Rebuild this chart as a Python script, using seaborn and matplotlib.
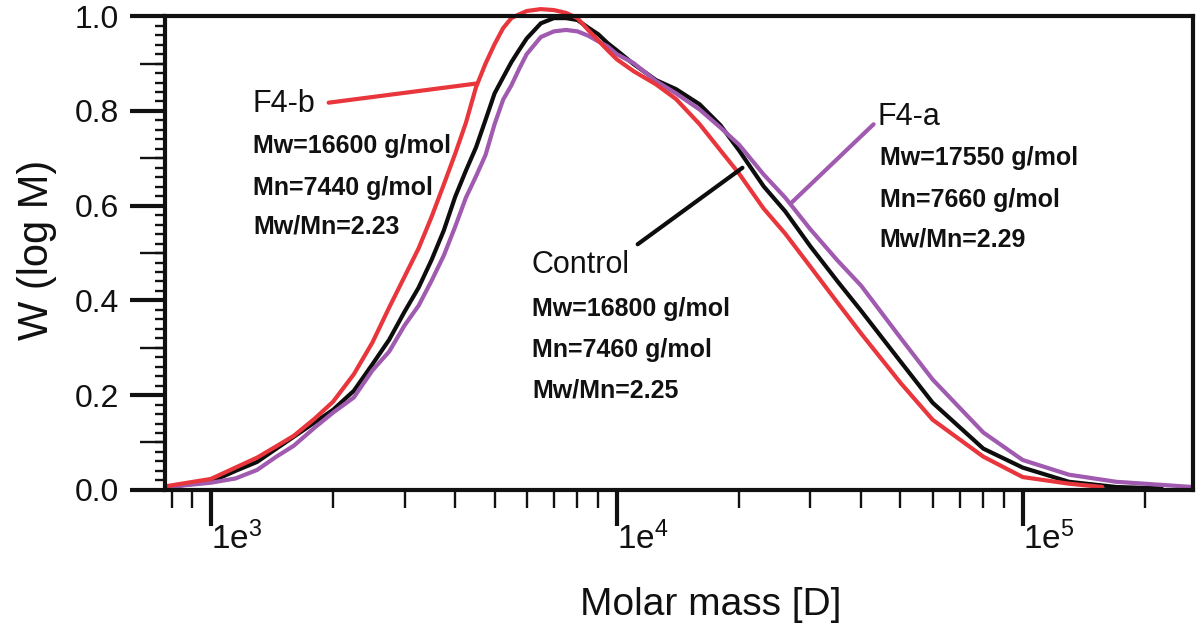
import numpy as np
import pandas as pd
import matplotlib.pyplot as plt
import matplotlib.ticker as mticker
import seaborn as sns

# molar mass grid (D) shared by the three GPC traces
molar_mass = [780, 1000, 1150, 1300, 1450, 1600, 1800, 2000, 2250, 2500,
              2750, 3000, 3250, 3500, 3750, 4000, 4250, 4500, 4750, 5000,
              5250, 5500, 5750, 6000, 6500, 7000, 7500, 8000, 8500, 9000,
              9500, 10000, 11000, 12500, 14000, 16000, 18000, 20000, 23000, 26000,
              30000, 35000, 40000, 50000, 60000, 80000, 100000, 130000]

# W (log M)
w_f4b = [0.008, 0.023, 0.047, 0.068, 0.092, 0.114, 0.150, 0.186, 0.244, 0.311,
         0.385, 0.450, 0.510, 0.577, 0.645, 0.710, 0.775, 0.850, 0.900, 0.941,
         0.975, 0.996, 1.004, 1.011, 1.015, 1.013, 1.007, 0.996, 0.971, 0.949,
         0.928, 0.909, 0.884, 0.856, 0.825, 0.772, 0.717, 0.668, 0.594, 0.541,
         0.471, 0.395, 0.330, 0.226, 0.148, 0.070, 0.027, 0.013]
w_control = [0.006, 0.017, 0.040, 0.059, 0.087, 0.112, 0.142, 0.169, 0.209, 0.265,
             0.317, 0.376, 0.427, 0.486, 0.548, 0.619, 0.674, 0.723, 0.781, 0.837,
             0.871, 0.903, 0.929, 0.953, 0.985, 0.996, 0.996, 0.992, 0.976, 0.962,
             0.943, 0.928, 0.899, 0.865, 0.846, 0.814, 0.770, 0.717, 0.641, 0.588,
             0.514, 0.440, 0.378, 0.271, 0.184, 0.087, 0.047, 0.017]
w_f4a = [0.006, 0.015, 0.024, 0.042, 0.070, 0.093, 0.131, 0.163, 0.195, 0.252,
         0.292, 0.347, 0.389, 0.442, 0.495, 0.556, 0.617, 0.662, 0.707, 0.772,
         0.824, 0.854, 0.889, 0.920, 0.956, 0.968, 0.971, 0.968, 0.959, 0.947,
         0.936, 0.920, 0.901, 0.863, 0.837, 0.803, 0.765, 0.729, 0.666, 0.617,
         0.550, 0.484, 0.431, 0.321, 0.233, 0.121, 0.063, 0.032]

# tails beyond the shared grid
tail_mass_f4b, tail_w_f4b = [157000], [0.006]
tail_mass_control, tail_w_control = [170000, 220000], [0.006, 0.003]
tail_mass_f4a, tail_w_f4a = [170000, 262000], [0.017, 0.006]

samples = ['Control', 'F4-a', 'F4-b']
stats = {
    'F4-b': ['Mw=16600 g/mol', 'Mn=7440 g/mol', 'Mw/Mn=2.23'],
    'Control': ['Mw=16800 g/mol', 'Mn=7460 g/mol', 'Mw/Mn=2.25'],
    'F4-a': ['Mw=17550 g/mol', 'Mn=7660 g/mol', 'Mw/Mn=2.29'],
}
colors = {'Control': '#0d0d0d', 'F4-a': '#a05aaf', 'F4-b': '#e8363c'}

frames = [
    pd.DataFrame({'mass': molar_mass + tail_mass_control, 'w': w_control + tail_w_control, 'sample': 'Control'}),
    pd.DataFrame({'mass': molar_mass + tail_mass_f4a, 'w': w_f4a + tail_w_f4a, 'sample': 'F4-a'}),
    pd.DataFrame({'mass': molar_mass + tail_mass_f4b, 'w': w_f4b + tail_w_f4b, 'sample': 'F4-b'}),
]
df = pd.concat(frames, ignore_index=True)

sns.set_style('ticks')
plt.rcParams['font.family'] = ['Liberation Sans', 'DejaVu Sans']
plt.rcParams['mathtext.fontset'] = 'custom'
plt.rcParams['mathtext.rm'] = 'Liberation Sans'
plt.rcParams['mathtext.default'] = 'regular'
for key in ['text.color', 'axes.labelcolor', 'xtick.color', 'ytick.color', 'axes.edgecolor']:
    plt.rcParams[key] = '#111111'

fig, ax = plt.subplots(figsize=(12, 6.24), dpi=100)
fig.subplots_adjust(left=0.1375, right=0.994, top=0.974, bottom=0.215)

for s in samples:
    sns.lineplot(data=df[df['sample'] == s], x='mass', y='w', color=colors[s],
                 lw=3, sort=False, estimator=None, ax=ax, clip_on=False)

ax.set_xscale('log')
ax.set_xlim(771, 262500)
ax.set_ylim(0, 1.0)

# x ticks
ax.set_xticks([1e3, 1e4, 1e5])
ax.set_xticklabels(['1e$^{3}$', '1e$^{4}$', '1e$^{5}$'])
ax.xaxis.set_minor_locator(mticker.LogLocator(base=10, subs=np.arange(2, 10), numticks=20))
ax.xaxis.set_minor_formatter(mticker.NullFormatter())
for lab in ax.get_xticklabels():
    lab.set_ha('left')
ax.tick_params(axis='x', which='major', length=26, width=3, labelsize=24, pad=-3, direction='out')
ax.tick_params(axis='x', which='minor', length=13, width=1.7, direction='out')

# y ticks: major every 0.2, minor every 0.02
ax.set_yticks([0.0, 0.2, 0.4, 0.6, 0.8, 1.0])
ax.yaxis.set_major_formatter(mticker.FormatStrFormatter('%.1f'))
ax.yaxis.set_minor_locator(mticker.MultipleLocator(0.02))
ax.tick_params(axis='y', which='major', length=25, width=3, labelsize=23, pad=8, direction='out')
ax.tick_params(axis='y', which='minor', length=7, width=1.7, direction='out')

# medium ticks at the odd tenths, on a twin axis sharing the left side
ax_mid = ax.twinx()
ax_mid.set_ylim(ax.get_ylim())
ax_mid.yaxis.set_ticks_position('left')
ax_mid.set_yticks([0.1, 0.3, 0.5, 0.7, 0.9])
ax_mid.yaxis.set_minor_locator(mticker.NullLocator())
ax_mid.tick_params(axis='y', which='major', left=True, right=False, labelleft=False,
                   labelright=False, length=18, width=1.7, direction='out')
for sp in ax_mid.spines.values():
    sp.set_visible(False)

for sp in ax.spines.values():
    sp.set_linewidth(3)

ax.set_xlabel('Molar mass [D]', fontsize=28)
ax.set_ylabel('W (log M)', fontsize=30)
ax.xaxis.set_label_coords(0.531, -0.205)
ax.yaxis.set_label_coords(-0.105, 0.506)

# labels with leader lines
ax.annotate('F4-b', xy=(4520, 0.858), xycoords='data', xytext=(0.0856, 0.797),
            textcoords='axes fraction', fontsize=22, va='baseline', ha='left',
            arrowprops=dict(arrowstyle='-', color=colors['F4-b'], lw=3,
                            relpos=(1.0, 0.5), shrinkA=7, shrinkB=0))
ax.annotate('Control', xy=(20400, 0.68), xycoords='data', xytext=(0.357, 0.458),
            textcoords='axes fraction', fontsize=22, va='baseline', ha='left',
            arrowprops=dict(arrowstyle='-', color=colors['Control'], lw=3,
                            relpos=(1.0, 1.0), shrinkA=4, shrinkB=0))
ax.annotate('F4-a', xy=(27000, 0.607), xycoords='data', xytext=(0.6936, 0.770),
            textcoords='axes fraction', fontsize=22, va='baseline', ha='left',
            arrowprops=dict(arrowstyle='-', color=colors['F4-a'], lw=3,
                            relpos=(0.0, 0.4), shrinkA=1, shrinkB=0))

stat_pos = {'F4-b': (0.0856, [0.711, 0.622, 0.542]),
            'Control': (0.357, [0.367, 0.281, 0.196]),
            'F4-a': (0.6955, [0.686, 0.597, 0.513])}
for s, (x0, ys) in stat_pos.items():
    for txt, y0 in zip(stats[s], ys):
        ax.text(x0, y0, txt, transform=ax.transAxes, fontsize=18,
                fontweight='bold', va='baseline', ha='left')

fig.savefig('out.png', dpi=100)
